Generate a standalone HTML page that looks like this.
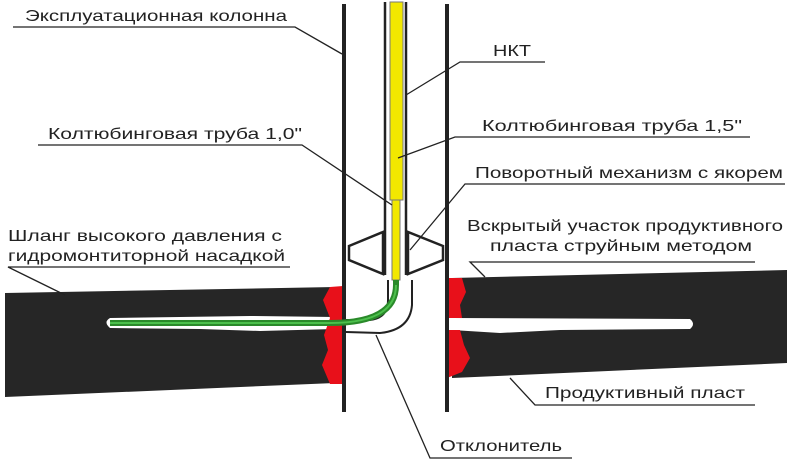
<!DOCTYPE html>
<html><head><meta charset="utf-8"><style>
html,body{margin:0;padding:0;background:#fff;width:800px;height:466px;overflow:hidden}
svg{display:block}
text{font-family:"Liberation Sans",sans-serif;font-size:16px;fill:#222}
</style></head><body>
<svg width="800" height="466" viewBox="0 0 800 466">
<rect width="800" height="466" fill="#fff"/>
<polygon points="5,293 335,287 335,383 5,397" fill="#262626"/>
<polygon points="452,278 787,270 787,363 452,378" fill="#262626"/>
<path d="M110,318 Q103,322 110,328 L200,329 L260,331 L335,329 L335,317 L250,316 Z" fill="#fff"/>
<path d="M452,318 L690,319 Q696,324 690,329 L560,330 L500,333 L452,330 Z" fill="#fff"/>
<polygon points="330,287 343,286 343,384 330,384 322,365 328,350 324,335 330,318 323,300" fill="#e8101a"/>
<polygon points="447,278 462,278 466,292 460,305 462,318 447,318" fill="#e8101a"/>
<polygon points="447,330 460,330 464,345 470,358 462,372 447,378" fill="#e8101a"/>
<line x1="344" y1="4" x2="344" y2="412" stroke="#222" stroke-width="4"/>
<line x1="447" y1="4" x2="447" y2="412" stroke="#222" stroke-width="4"/>
<line x1="385" y1="2" x2="385" y2="275" stroke="#222" stroke-width="2.5"/>
<line x1="406" y1="2" x2="406" y2="275" stroke="#222" stroke-width="2.5"/>
<rect x="390" y="2" width="13" height="198" fill="#f2e800" stroke="#777" stroke-width="1"/>
<rect x="392" y="200" width="8" height="80" fill="#f2e800" stroke="#777" stroke-width="1"/>
<polygon points="349,246 383,232 383,274 349,260" fill="none" stroke="#222" stroke-width="2.5"/>
<polygon points="443,246 408,232 408,274 443,260" fill="none" stroke="#222" stroke-width="2.5"/>
<path d="M388,280 L388,300 Q388,318 370,320 L346,320" fill="none" stroke="#222" stroke-width="2"/>
<path d="M412,280 L412,305 Q410,330 380,333 L346,332" fill="none" stroke="#222" stroke-width="2"/>
<path d="M110,323 L330,323 Q396,323 396,285 L396,280" fill="none" stroke="#2a8a2a" stroke-width="6"/>
<path d="M110,323 L330,323 Q396,323 396,285" fill="none" stroke="#4cc04c" stroke-width="2"/>
<g stroke="#222" stroke-width="1.3" fill="none">
<polyline points="13,27 295,27 342,54"/>
<polyline points="545,62 460,62 406,95"/>
<polyline points="38,145 302,145 392,205"/>
<polyline points="750,137 455,137 398,158"/>
<polyline points="785,184 465,184 410,250"/>
<polyline points="290,267 8,267 65,295"/>
<polyline points="755,262 470,262 485,277"/>
<polyline points="755,405 535,405 510,378"/>
<polyline points="572,458 430,458 376,335"/>
</g>
<g lengthAdjust="spacingAndGlyphs">
<text x="25" y="21" textLength="262" lengthAdjust="spacingAndGlyphs">Эксплуатационная колонна</text>
<text x="493" y="56" textLength="38" lengthAdjust="spacingAndGlyphs">НКТ</text>
<text x="48" y="139" textLength="254" lengthAdjust="spacingAndGlyphs">Колтюбинговая труба 1,0"</text>
<text x="482" y="131" textLength="260" lengthAdjust="spacingAndGlyphs">Колтюбинговая труба 1,5"</text>
<text x="475" y="178" textLength="308" lengthAdjust="spacingAndGlyphs">Поворотный механизм с якорем</text>
<text x="8" y="241" textLength="274" lengthAdjust="spacingAndGlyphs">Шланг высокого давления с</text>
<text x="8" y="261" textLength="277" lengthAdjust="spacingAndGlyphs">гидромонтиторной насадкой</text>
<text x="467" y="231" textLength="316" lengthAdjust="spacingAndGlyphs">Вскрытый участок продуктивного</text>
<text x="490" y="251" textLength="262" lengthAdjust="spacingAndGlyphs">пласта струйным методом</text>
<text x="545" y="398" textLength="200" lengthAdjust="spacingAndGlyphs">Продуктивный пласт</text>
<text x="440" y="451" textLength="122" lengthAdjust="spacingAndGlyphs">Отклонитель</text>
</g>
</svg>
</body></html>
